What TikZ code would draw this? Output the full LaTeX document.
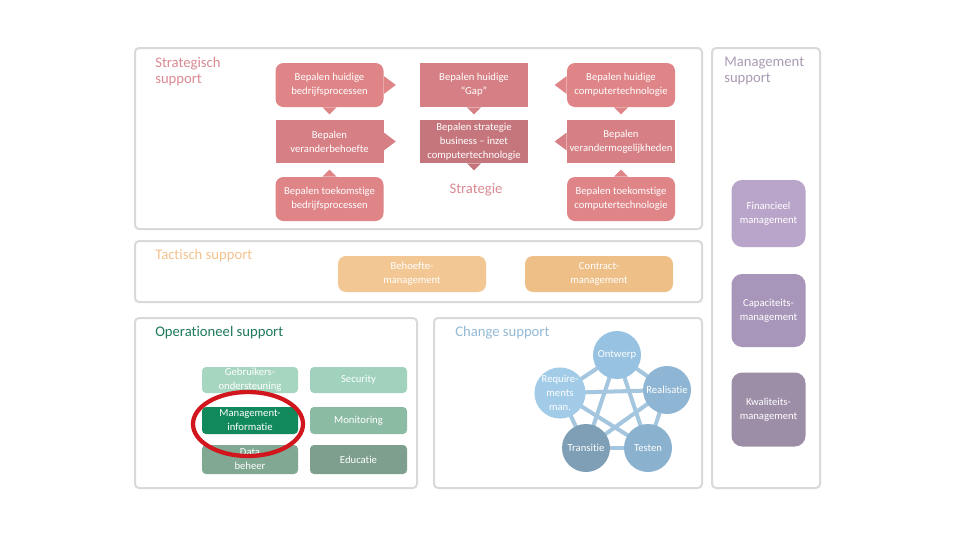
\documentclass[tikz,border=0pt]{standalone}
\usepackage{fontspec}
\setmainfont[RawFeature={-liga;-dlig;-clig}]{Carlito}
\usetikzlibrary{shapes.geometric,backgrounds}
\definecolor{pinkR}{HTML}{DF8487}
\definecolor{pinkS}{HTML}{D68085}
\definecolor{pinkD}{HTML}{C5767D}
\definecolor{pinkT}{HTML}{D98A92}
\definecolor{oraT}{HTML}{F3C38F}
\definecolor{oraA}{HTML}{F2C794}
\definecolor{oraB}{HTML}{EEC088}
\definecolor{purT}{HTML}{A99BB3}
\definecolor{purA}{HTML}{B9A5CA}
\definecolor{purB}{HTML}{A896BA}
\definecolor{purC}{HTML}{9D8EA8}
\definecolor{grnT}{HTML}{1E7A5A}
\definecolor{grnA}{HTML}{A6D6C0}
\definecolor{grnB}{HTML}{A0D2BD}
\definecolor{grnC}{HTML}{12895C}
\definecolor{grnD}{HTML}{8CBBA4}
\definecolor{grnE}{HTML}{80A893}
\definecolor{grnF}{HTML}{7E9F8D}
\definecolor{bluT}{HTML}{93BAD6}
\definecolor{bluA}{HTML}{98C2E2}
\definecolor{bluB}{HTML}{8EB5D3}
\definecolor{bluC}{HTML}{A2CBE8}
\definecolor{bluD}{HTML}{7E9FB6}
\definecolor{bluE}{HTML}{8AB1CD}
\definecolor{bluL}{HTML}{A5C6DF}
\definecolor{panelgray}{HTML}{D9D9D9}
\definecolor{markred}{HTML}{D2161E}
\begin{document}
\begin{tikzpicture}[x=0.75pt,y=-0.75pt,
  sz/.style 2 args={minimum width=#1*0.75pt, minimum height=#2*0.75pt},
  panel/.style={draw=panelgray, line width=1.5pt, rounded corners=3pt, inner sep=0pt},
  title/.style={anchor=north west, align=left, inner sep=0pt, font=\fontsize{11}{12}\selectfont},
  bx/.style={text=white, align=center, inner sep=0pt, font=\fontsize{8}{10.5}\selectfont},
  sbox/.style={bx, fill=#1},
  rbox/.style={bx, fill=#1, rounded corners=6pt},
  mbox/.style={bx, fill=#1, rounded corners=8pt},
  obox/.style={bx, fill=#1, rounded corners=3pt},
  cir/.style={bx, circle, fill=#1, minimum size=36pt},
  link/.style={draw=bluL, line width=3pt}
]
\begin{scope}[on background layer]
\fill[white] (0,0) rectangle (960,540);
\end{scope}

% panels
\node[panel, sz={567}{181}] (pstrat) at (418.5,138.5) {};
\node[panel, sz={108}{440}] (pmgmt) at (766,268) {};
\node[panel, sz={567}{61}] (ptact) at (418.5,271.5) {};
\node[panel, sz={282}{170}] (poper) at (276,403) {};
\node[panel, sz={268}{170}] (pchange) at (568,403) {};

% titles
\node[title, text=pinkT] (tstrat) at (155,57) {Strategisch\\support};
\node[title, text=purT] (tmgmt) at (724,57) {Management\\support};
\node[title, text=oraT] (ttact) at (155,249) {Tactisch support};
\node[title, text=grnT] (toper) at (155,326) {Operationeel support};
\node[title, text=bluT] (tchange) at (455,326) {Change support};

% strategic nodes
\node[rbox=pinkR, sz={108}{44}] (n1) at (329.5,85) {Bepalen huidige\\bedrijfsprocessen};
\node[sbox=pinkS, sz={108}{44}] (n2) at (474,85) {Bepalen huidige\\“Gap”};
\node[rbox=pinkR, sz={108}{44}] (n3) at (621,85) {Bepalen huidige\\computertechnologie};
\node[sbox=pinkS, sz={108}{43}] (n4) at (329.5,141.5) {Bepalen\\veranderbehoefte};
\node[sbox=pinkD, sz={108}{43}] (n5) at (474,141.5) {Bepalen strategie\\business – inzet\\computertechnologie};
\node[sbox=pinkS, sz={108}{43}] (n6) at (621,141.5) {Bepalen\\verandermogelijkheden};
\node[rbox=pinkR, sz={108}{44}] (n7) at (329.5,199) {Bepalen toekomstige\\bedrijfsprocessen};
\node[rbox=pinkR, sz={108}{44}] (n9) at (621,199) {Bepalen toekomstige\\computertechnologie};
\node[text=pinkT, inner sep=0pt, font=\fontsize{11}{12}\selectfont] (strategie) at (476,190) {Strategie};

% pointers
\fill[pinkR] ([yshift=6.75pt]n1.east) -- ([xshift=9pt]n1.east) -- ([yshift=-6.75pt]n1.east) -- cycle;
\fill[pinkR] ([xshift=-5.25pt]n1.south) -- ([yshift=-5.25pt]n1.south) -- ([xshift=5.25pt]n1.south) -- cycle;
\fill[pinkS] ([yshift=6.75pt]n4.east) -- ([xshift=9pt]n4.east) -- ([yshift=-6.75pt]n4.east) -- cycle;
\fill[pinkR] ([xshift=-5.25pt]n7.north) -- ([yshift=5.25pt]n7.north) -- ([xshift=5.25pt]n7.north) -- cycle;
\fill[pinkS] ([xshift=-5.25pt]n2.south) -- ([yshift=-5.25pt]n2.south) -- ([xshift=5.25pt]n2.south) -- cycle;
\fill[pinkD] ([xshift=-5.25pt]n5.south) -- ([yshift=-5.25pt]n5.south) -- ([xshift=5.25pt]n5.south) -- cycle;
\fill[pinkR] ([yshift=6.75pt]n3.west) -- ([xshift=-9pt]n3.west) -- ([yshift=-6.75pt]n3.west) -- cycle;
\fill[pinkR] ([xshift=-5.25pt]n3.south) -- ([yshift=-5.25pt]n3.south) -- ([xshift=5.25pt]n3.south) -- cycle;
\fill[pinkS] ([yshift=6.75pt]n6.west) -- ([xshift=-9pt]n6.west) -- ([yshift=-6.75pt]n6.west) -- cycle;
\fill[pinkR] ([xshift=-5.25pt]n9.north) -- ([yshift=5.25pt]n9.north) -- ([xshift=5.25pt]n9.north) -- cycle;

% tactical
\node[rbox=oraA, sz={148}{36}] (beh) at (412,274) {Behoefte-\\management};
\node[rbox=oraB, sz={148}{36}] (con) at (599,274) {Contract-\\management};

% management
\node[mbox=purA, sz={74}{67}] (fin) at (768.5,213.5) {Financieel\\management};
\node[mbox=purB, sz={74}{73}] (cap) at (768.5,310.5) {Capaciteits-\\management};
\node[mbox=purC, sz={74}{74}] (kwa) at (768.5,409.5) {Kwaliteits-\\management};

% operational
\node[obox=grnA, sz={96}{26}] (geb) at (250,380) {Gebruikers-\\ondersteuning};
\node[obox=grnB, sz={97}{26}] (sec) at (358.5,380) {Security};
\node[obox=grnC, sz={96}{27}] (mi) at (250,420.5) {Management-\\informatie};
\node[obox=grnD, sz={97}{27}] (mon) at (358.5,420.5) {Monitoring};
\node[obox=grnE, sz={96}{29}] (dat) at (250,459.5) {Data\\beheer};
\node[obox=grnF, sz={97}{29}] (edu) at (358.5,459.5) {Educatie};
\node[ellipse, draw=markred, line width=3.2pt, sz={110}{64}, inner sep=0pt] (mark) at (248,424) {};

% change circles
\node[cir=bluA] (ont) at (617,355) {Ontwerp};
\node[cir=bluB] (rea) at (667,390) {Realisatie};
\node[cir=bluC] (req) at (560,393) {Require-\\ments\\man.};
\node[cir=bluD] (tra) at (586,448) {Transitie};
\node[cir=bluE] (tes) at (648,448) {Testen};
\begin{scope}[on background layer]
\draw[link] (ont.center) -- (rea.center);
\draw[link] (ont.center) -- (req.center);
\draw[link] (ont.center) -- (tra.center);
\draw[link] (ont.center) -- (tes.center);
\draw[link] (rea.center) -- (req.center);
\draw[link] (rea.center) -- (tra.center);
\draw[link] (rea.center) -- (tes.center);
\draw[link] (req.center) -- (tra.center);
\draw[link] (req.center) -- (tes.center);
\draw[link] (tra.center) -- (tes.center);
\end{scope}
\end{tikzpicture}
\end{document}
